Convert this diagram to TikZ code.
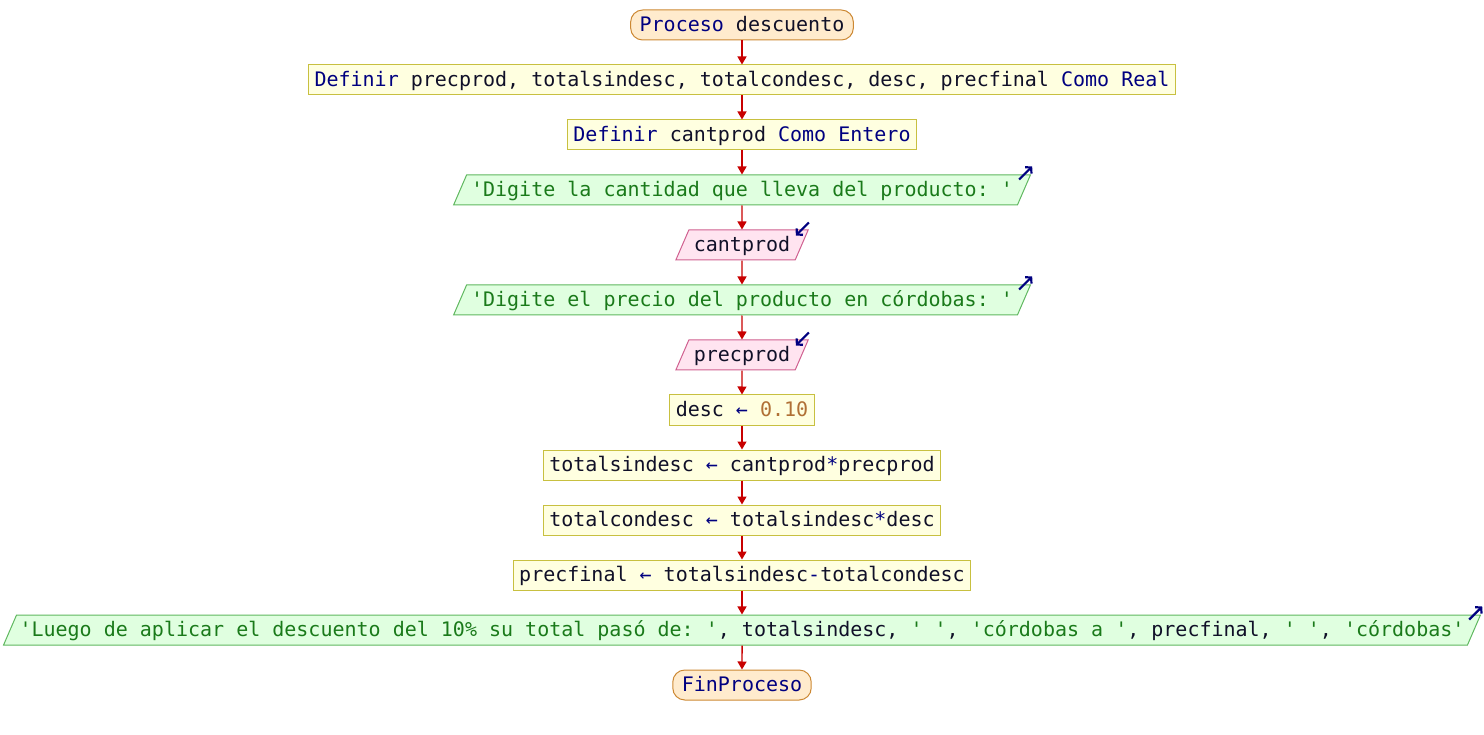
\documentclass[tikz,border=0pt]{standalone}
\usepackage{fontspec}
\setmonofont{DejaVu Sans Mono}
\usetikzlibrary{shapes}
\usetikzlibrary{positioning}
\usetikzlibrary{arrows.meta}

\definecolor{kwcol}{HTML}{000080}
\definecolor{varcol}{HTML}{101028}
\definecolor{strcol}{HTML}{1A7A1A}
\definecolor{numcol}{HTML}{B07035}
\definecolor{flechacol}{HTML}{C80000}
\definecolor{termfondo}{HTML}{FFEBCD}
\definecolor{termborde}{HTML}{CC8833}
\definecolor{procfondo}{HTML}{FFFFE0}
\definecolor{procborde}{HTML}{C8C040}
\definecolor{salfondo}{HTML}{E0FFE0}
\definecolor{salborde}{HTML}{60B860}
\definecolor{entfondo}{HTML}{FFE4F0}
\definecolor{entborde}{HTML}{D06090}

\newcommand{\kw}[1]{\textcolor{kwcol}{#1}}
\newcommand{\cad}[1]{\textcolor{strcol}{#1}}
\newcommand{\nmr}[1]{\textcolor{numcol}{#1}}
\newcommand{\asig}{\textcolor{kwcol}{←}}

\tikzset{
    base/.style={font=\ttfamily\fontsize{20}{24}\selectfont, text=varcol, text height=16pt, text depth=3pt, inner ysep=5.5pt, line width=1pt},
    terminal/.style={base, draw=termborde, fill=termfondo, rounded corners=12pt, inner xsep=9pt},
    proceso/.style={base, draw=procborde, fill=procfondo, inner xsep=6pt},
    salida/.style={base, trapezium, trapezium left angle=66.6, trapezium right angle=113.4, draw=salborde, fill=salfondo, inner xsep=4.5pt},
    entrada/.style={base, trapezium, trapezium left angle=66.6, trapezium right angle=113.4, draw=entborde, fill=entfondo, inner xsep=5pt},
    flecha/.style={draw=flechacol, line width=1.3pt, -{Triangle[length=8pt,width=9pt]}},
    icono/.style={draw=kwcol, line width=2.2pt, -{Straight Barb[length=4pt,width=9pt]}}
}

\begin{document}
\begin{tikzpicture}[x=1pt, y=1pt, node distance=55pt, on grid]

    \useasboundingbox (0,0) rectangle (1484,-735);

    \node(I)[terminal] at (742,-25){\kw{Proceso} descuento};
    \node(D1)[proceso, below=of I]{\kw{Definir} precprod, totalsindesc, totalcondesc, desc, precfinal \kw{Como Real}};
    \node(D2)[proceso, below=of D1]{\kw{Definir} cantprod \kw{Como Entero}};
    \node(S1)[salida, below=of D2]{\cad{'Digite la cantidad que lleva del producto: '}};
    \node(L1)[entrada, below=of S1]{cantprod};
    \node(S2)[salida, below=of L1]{\cad{'Digite el precio del producto en córdobas: '}};
    \node(L2)[entrada, below=of S2]{precprod};
    \node(A1)[proceso, below=of L2]{desc \asig{} \nmr{0.10}};
    \node(A2)[proceso, below=of A1]{totalsindesc \asig{} cantprod\kw{*}precprod};
    \node(A3)[proceso, below=of A2]{totalcondesc \asig{} totalsindesc\kw{*}desc};
    \node(A4)[proceso, below=of A3]{precfinal \asig{} totalsindesc\kw{-}totalcondesc};
    \node(S3)[salida, inner xsep=3pt, below=of A4]{\cad{'Luego de aplicar el descuento del 10\% su total pasó de: '}, totalsindesc, \cad{' '}, \cad{'córdobas a '}, precfinal, \cad{' '}, \cad{'córdobas'}};
    \node(F)[terminal, below=of S3]{\kw{FinProceso}};

    \draw[flecha] (I) -- (D1);
    \draw[flecha] (D1) -- (D2);
    \draw[flecha] (D2) -- (S1);
    \draw[flecha] (S1) -- (L1);
    \draw[flecha] (L1) -- (S2);
    \draw[flecha] (S2) -- (L2);
    \draw[flecha] (L2) -- (A1);
    \draw[flecha] (A1) -- (A2);
    \draw[flecha] (A2) -- (A3);
    \draw[flecha] (A3) -- (A4);
    \draw[flecha] (A4) -- (S3);
    \draw[flecha] (S3) -- (F);

    % iconos de entrada / salida
    \foreach \s in {S1,S2,S3}
        \draw[icono] ([shift={(-12,-5)}]\s.top right corner) -- ++(13,13);
    \foreach \l in {L1,L2}
        \draw[icono] ([shift={(0,7)}]\l.top right corner) -- ++(-13,-13);

\end{tikzpicture}
\end{document}
